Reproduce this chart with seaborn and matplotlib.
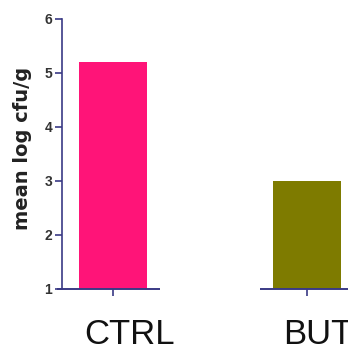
import matplotlib
matplotlib.use("Agg")
import matplotlib.pyplot as plt
import matplotlib.transforms as mtransforms
import seaborn as sns

categories = ["CTRL", "BUT"]
values = [5.2, 3.0]
bar_colors = ["#FF1478", "#7E7B00"]
yticks = [1, 2, 3, 4, 5, 6]
ylabel = "mean log cfu/g"

sns.set_style("white")
plt.rcParams['font.family'] = ['Liberation Sans', 'DejaVu Sans']

axis_color = "#3a3a85"

fig = plt.figure(figsize=(3.48, 3.51), dpi=100)
ax = fig.add_axes([62/348, 1-289/351, (348-62)/348, (289-19)/351])

sns.barplot(x=categories, y=values, hue=categories, palette=bar_colors,
            width=0.35, saturation=1, legend=False, ax=ax, edgecolor="none")

ax.set_ylim(1, 6)
ax.set_xlim(-0.263, 1.211)
ax.set_yticks(yticks)
ax.set_yticklabels([str(t) for t in yticks], fontsize=10, fontweight="bold", color="#333333")

for s in ["top", "right", "bottom"]:
    ax.spines[s].set_visible(False)
ax.spines["left"].set_color(axis_color)
ax.spines["left"].set_linewidth(1.2)
ax.spines["left"].set_bounds(1, 6)

# broken x-axis segments under each category
for i in range(len(categories)):
    left = i - 0.24 if i > 0 else -0.29
    ax.hlines(1, left, i + 0.24, color=axis_color, linewidth=1.4, clip_on=False)

ax.tick_params(axis="y", direction="out", length=5, width=1.2, color=axis_color, pad=2, left=True)
ax.tick_params(axis="x", direction="out", length=5, width=1.2, color=axis_color, pad=16, bottom=True,
               labelsize=25, labelcolor="#111111")

# shift category labels slightly right, as in the reference
shifts = [17, 11]
for lab, dx in zip(ax.get_xticklabels(), shifts):
    lab.set_transform(lab.get_transform() + mtransforms.ScaledTranslation(dx / 100, 0, fig.dpi_scale_trans))

ax.set_xlabel("")
ax.set_ylabel(ylabel, fontsize=14, fontweight="bold", color="#222222", family="DejaVu Sans")
ax.yaxis.set_label_coords(-0.105, 0.52)

fig.savefig("out.png", dpi=100)
